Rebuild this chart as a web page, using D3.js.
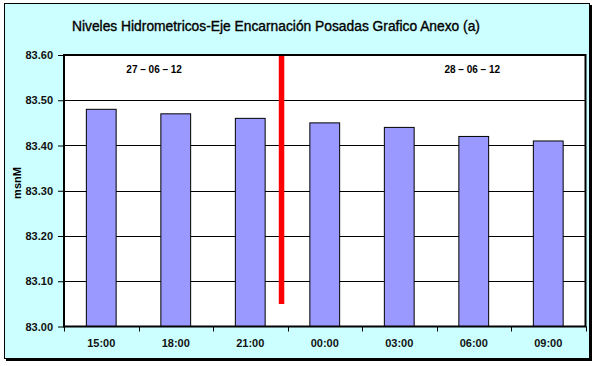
<!DOCTYPE html>
<html><head><meta charset="utf-8">
<script src="https://cdn.jsdelivr.net/npm/d3@7"></script>
<style>body{margin:0;background:#fff}svg{display:block}</style>
</head><body>
<script>
const categories = ["15:00","18:00","21:00","00:00","03:00","06:00","09:00"];
const levels = [83.48,83.47,83.46,83.45,83.44,83.42,83.41];
const yTicks = [83.00,83.10,83.20,83.30,83.40,83.50,83.60];
const dateLabels = [{text:"27 – 06 – 12", pos:1.21},{text:"28 – 06 – 12", pos:5.48}];
const divider = {pos:2.92, from:83.05, to:83.60};
const title = "Niveles Hidrometricos-Eje Encarnación Posadas Grafico Anexo (a)";
const yLabel = "msnM";

const W=596,H=366;
const svg=d3.select("body").append("svg").attr("width",W).attr("height",H);
const font="Liberation Sans, Arial, sans-serif";

// frame with shadow
svg.append("rect").attr("x",6).attr("y",5).attr("width",586).attr("height",356).attr("fill","#000");
svg.append("rect").attr("x",4.5).attr("y",3.5).attr("width",585).attr("height",355)
  .attr("fill","#CCFFFF").attr("stroke","#000").attr("stroke-width",1);

const L=64,T=55,R=585.5,B=326.5;
const x=d3.scaleBand().domain(categories).range([L,R]).paddingInner(0.6).paddingOuter(0.3);
const xc=d3.scaleLinear().domain([0,categories.length]).range([L,R]);
const y=d3.scaleLinear().domain([83.0,83.6]).range([B,T]);

svg.append("rect").attr("x",L).attr("y",T).attr("width",R-L).attr("height",B-T).attr("fill","#fff");

// grid
svg.append("g").selectAll("line").data(yTicks.slice(1)).join("line")
  .attr("x1",L).attr("x2",R).attr("y1",d=>Math.round(y(d))+0.5).attr("y2",d=>Math.round(y(d))+0.5)
  .attr("stroke","#000").attr("stroke-width",1);

// bars
svg.append("g").selectAll("rect").data(levels).join("rect")
  .attr("x",(d,i)=>x(categories[i])).attr("width",x.bandwidth())
  .attr("y",d=>y(d)).attr("height",d=>B-y(d))
  .attr("fill","#9999FF").attr("stroke","#000").attr("stroke-width",1);

// divider line
svg.append("line").attr("x1",xc(divider.pos)).attr("x2",xc(divider.pos))
  .attr("y1",y(divider.to)).attr("y2",y(divider.from))
  .attr("stroke","#FF0000").attr("stroke-width",5.5);

// plot border
svg.append("rect").attr("x",L).attr("y",T).attr("width",R-L).attr("height",B-T)
  .attr("fill","none").attr("stroke","#000").attr("stroke-width",2);

// y axis
const ya=svg.append("g").attr("transform",`translate(${L},0)`)
  .call(d3.axisLeft(y).tickValues(yTicks).tickFormat(d3.format(".2f")).tickSize(6).tickPadding(5));
ya.select(".domain").remove();
ya.selectAll("line").attr("stroke","#000");
ya.selectAll("text").attr("font-family",font).attr("font-size","11px").attr("font-weight","bold").attr("fill","#111");

// x axis
const xa=svg.append("g").attr("transform",`translate(0,${B})`);
xa.selectAll("line").data(d3.range(categories.length+1)).join("line")
  .attr("x1",d=>Math.round(xc(d))+0.5).attr("x2",d=>Math.round(xc(d))+0.5).attr("y1",0).attr("y2",5)
  .attr("stroke","#000");
xa.selectAll("text").data(categories).join("text")
  .attr("x",d=>x(d)+x.bandwidth()/2).attr("y",20.5).attr("text-anchor","middle")
  .attr("font-family",font).attr("font-size","11px").attr("font-weight","bold").attr("fill","#111").text(d=>d);

// date labels
svg.selectAll(".dl").data(dateLabels).join("text").attr("class","dl")
  .attr("x",d=>xc(d.pos)).attr("y",73).attr("text-anchor","middle")
  .attr("font-family",font).attr("font-size","10px").attr("font-weight","bold").attr("fill","#000").text(d=>d.text);

// title
svg.append("text").attr("x",276).attr("y",31).attr("text-anchor","middle")
  .attr("font-family",font).attr("font-size","13.8px").attr("fill","#000")
  .attr("stroke","#000").attr("stroke-width",0.35).text(title);

// y label
svg.append("text").attr("transform","translate(21,183) rotate(-90)").attr("text-anchor","middle")
  .attr("font-family",font).attr("font-size","11px").attr("font-weight","bold").attr("fill","#000").text(yLabel);
</script>
</body></html>
